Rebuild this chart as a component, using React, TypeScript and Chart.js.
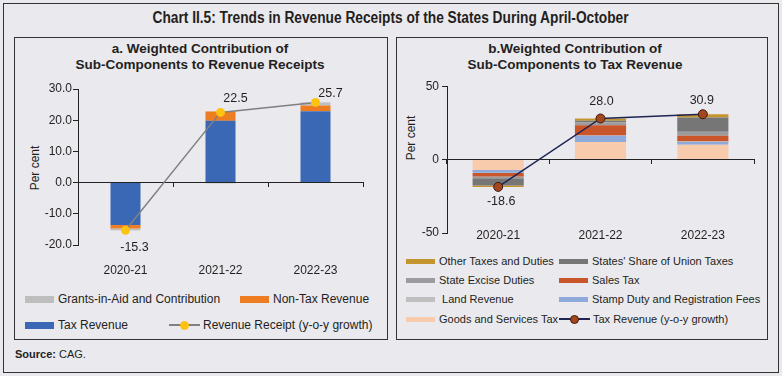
import React, { useEffect, useLayoutEffect, useRef } from "react";
import { Chart, registerables } from "chart.js";

Chart.register(...registerables);

// ---------- DATA ----------
const years = ["2020-21", "2021-22", "2022-23"];

// Panel a: weighted contribution to revenue receipts
const taxRevenue = [-13.6, 19.8, 22.9];
const nonTaxRevenue = [-1.1, 3.0, 1.8];
const grantsInAid = [-0.6, -0.3, 1.0];
const revenueReceiptGrowth = [-15.3, 22.5, 25.7];
const leftTicks = [-20, -10, 0, 10, 20, 30];

// Panel b: weighted contribution to tax revenue
const gst = [-7.0, 12.0, 10.2];
const stampDuty = [-1.9, 4.2, 1.8];
const landRevenue = [-0.2, 0.2, 0.3];
const salesTax = [-2.4, 7.0, 4.0];
const stateExcise = [-1.2, 2.0, 2.7];
const statesShare = [-5.0, 1.0, 9.6];
const otherTaxes = [-0.9, 1.6, 2.3];
const taxRevenueGrowth = [-18.6, 28.0, 30.9];
const rightTicks = [-50, 0, 50];

// ---------- STYLE ----------
const BG = "#EAE9EE";
const TXT = "#231F20";
const AXIS = "#222222";
const FONT = "'Liberation Sans', Arial, Helvetica, sans-serif";

const C_TAX = "#3A68B4";
const C_NONTAX = "#EE7D22";
const C_GRANTS = "#BEBEBE";
const C_RR_LINE = "#808080";
const C_RR_PT = "#FFC20E";

const C_GST = "#F8CBAD";
const C_STAMP = "#8EAADB";
const C_LAND = "#BFBFBF";
const C_SALES = "#C9552B";
const C_EXCISE = "#9C9C9E";
const C_SHARE = "#767676";
const C_OTHER = "#C4952F";
const C_TR_LINE = "#1E2454";
const C_TR_PT = "#A3471F";
const C_TR_PTB = "#3B1A0E";

Chart.defaults.font.family = FONT;
Chart.defaults.color = TXT;

const pointLabels = {
  id: "pointLabels",
  afterDatasetsDraw(chart: any, _args: any, opts: any) {
    const idx = chart.data.datasets.findIndex((d: any) => d.type === "line");
    if (idx < 0) return;
    const meta = chart.getDatasetMeta(idx);
    const ctx = chart.ctx;
    ctx.save();
    ctx.font = opts.font;
    ctx.fillStyle = opts.color;
    ctx.textAlign = "center";
    ctx.textBaseline = "middle";
    meta.data.forEach((pt: any, i: number) => {
      const v = chart.data.datasets[idx].data[i] as number;
      const off = opts.offsets[i] || [0, 0];
      ctx.fillText(v.toFixed(1), pt.x + off[0], pt.y + off[1]);
    });
    ctx.restore();
  },
};

function makeScales(o: {
  min: number;
  max: number;
  yWidth: number;
  xHeight: number;
  xPad: number;
  yPad: number;
  xAtMin: boolean;
  fmt: (v: number) => string;
  ticks: number[];
}) {
  const x: any = {
    type: "category",
    axis: "x",
    stacked: true,
    offset: true,
    grid: { display: false, drawTicks: false },
    border: { display: false },
    ticks: { font: { size: 12 }, color: TXT, padding: o.xPad, maxRotation: 0 },
  };
  if (o.xAtMin) {
    x.position = { y: o.min };
  } else {
    x.position = "bottom";
    x.afterFit = (s: any) => {
      s.height = o.xHeight;
    };
  }
  return {
    x,
    x2: {
      type: "category",
      axis: "x",
      position: { y: 0 },
      offset: true,
      grid: {
        offset: true,
        drawOnChartArea: false,
        drawTicks: true,
        tickLength: 4,
        color: AXIS,
      },
      border: { display: true, color: AXIS, width: 1 },
      ticks: { display: false },
    },
    y: {
      stacked: true,
      min: o.min,
      max: o.max,
      afterBuildTicks: (s: any) => {
        s.ticks = o.ticks.map((v) => ({ value: v }));
      },
      grid: {
        drawOnChartArea: false,
        drawTicks: true,
        tickLength: 5,
        color: AXIS,
      },
      border: { display: true, color: AXIS, width: 1 },
      ticks: {
        font: { size: 12 },
        color: TXT,
        padding: o.yPad,
        callback: (v: any) => o.fmt(Number(v)),
      },
      afterFit: (s: any) => {
        s.width = o.yWidth;
      },
    },
  };
}

function LeftChart() {
  const ref = useRef<HTMLCanvasElement>(null);
  useEffect(() => {
    const bar = (label: string, data: number[], color: string) => ({
      label,
      data,
      backgroundColor: color,
      barPercentage: 1,
      categoryPercentage: 0.316,
      order: 1,
    });
    const chart = new Chart(ref.current as HTMLCanvasElement, {
      type: "bar",
      data: {
        labels: years,
        datasets: [
          {
            type: "line",
            label: "Revenue Receipt (y-o-y growth)",
            data: revenueReceiptGrowth,
            borderColor: C_RR_LINE,
            borderWidth: 1.5,
            pointBackgroundColor: C_RR_PT,
            pointBorderColor: C_RR_PT,
            pointRadius: 4.5,
            pointBorderWidth: 0,
            order: 0,
          } as any,
          bar("Tax Revenue", taxRevenue, C_TAX),
          bar("Non-Tax Revenue", nonTaxRevenue, C_NONTAX),
          bar("Grants-in-Aid and Contribution", grantsInAid, C_GRANTS),
        ],
      },
      options: {
        responsive: false,
        animation: false,
        events: [],
        layout: { padding: { top: 11, right: 23, bottom: 0, left: 0 } },
        plugins: {
          legend: { display: false },
          tooltip: { enabled: false },
          pointLabels: {
            font: `12.5px ${FONT}`,
            color: TXT,
            offsets: [
              [9, 17],
              [15, -14],
              [15, -9],
            ],
          },
        } as any,
        scales: makeScales({
          min: -20,
          max: 30,
          yWidth: 64,
          xHeight: 35,
          xPad: 18,
          yPad: 1,
          xAtMin: false,
          fmt: (v) => v.toFixed(1),
          ticks: leftTicks,
        }) as any,
      },
      plugins: [pointLabels],
    });
    return () => chart.destroy();
  }, []);
  return (
    <canvas
      ref={ref}
      width={372}
      height={202}
      style={{ position: "absolute", left: 14, top: 78, width: 372, height: 202 }}
    />
  );
}

function RightChart() {
  const ref = useRef<HTMLCanvasElement>(null);
  useEffect(() => {
    const bar = (label: string, data: number[], color: string) => ({
      label,
      data,
      backgroundColor: color,
      barPercentage: 1,
      categoryPercentage: 0.5,
      order: 1,
    });
    const chart = new Chart(ref.current as HTMLCanvasElement, {
      type: "bar",
      data: {
        labels: years,
        datasets: [
          {
            type: "line",
            label: "Tax Revenue (y-o-y growth)",
            data: taxRevenueGrowth,
            borderColor: C_TR_LINE,
            borderWidth: 1.5,
            pointBackgroundColor: C_TR_PT,
            pointBorderColor: C_TR_PTB,
            pointRadius: 4.5,
            pointBorderWidth: 1,
            order: 0,
          } as any,
          bar("Goods and Services Tax", gst, C_GST),
          bar("Stamp Duty and Registration Fees", stampDuty, C_STAMP),
          bar("Land Revenue", landRevenue, C_LAND),
          bar("Sales Tax", salesTax, C_SALES),
          bar("State Excise Duties", stateExcise, C_EXCISE),
          bar("States' Share of Union Taxes", statesShare, C_SHARE),
          bar("Other Taxes and Duties", otherTaxes, C_OTHER),
        ],
      },
      options: {
        responsive: false,
        animation: false,
        events: [],
        layout: { padding: { top: 9, right: 13, bottom: 18, left: 0 } },
        plugins: {
          legend: { display: false },
          tooltip: { enabled: false },
          pointLabels: {
            font: `12.5px ${FONT}`,
            color: TXT,
            offsets: [
              [3, 15],
              [1, -17],
              [-1, -14],
            ],
          },
        } as any,
        scales: makeScales({
          min: -50,
          max: 50,
          yWidth: 51,
          xHeight: 0,
          xPad: -4.5,
          yPad: 3,
          xAtMin: true,
          fmt: (v) => String(v),
          ticks: rightTicks,
        }) as any,
      },
      plugins: [pointLabels],
    });
    return () => chart.destroy();
  }, []);
  return (
    <canvas
      ref={ref}
      width={371}
      height={175}
      style={{ position: "absolute", left: 396, top: 76, width: 371, height: 175 }}
    />
  );
}

type LegendItem = {
  label: string;
  color: string;
  kind: "box" | "line";
  x: number;
  y: number;
  marker?: string;
  markerBorder?: string;
};

function Legend({
  items,
  fontSize,
  swatchH,
}: {
  items: LegendItem[];
  fontSize: number;
  swatchH: number;
}) {
  return (
    <>
      {items.map((it) => (
        <div
          key={it.label}
          style={{
            position: "absolute",
            left: it.x,
            top: it.y - 9,
            height: 18,
            display: "flex",
            alignItems: "center",
            whiteSpace: "pre",
            fontSize,
            color: TXT,
          }}
        >
          {it.kind === "box" ? (
            <span
              style={{ display: "inline-block", width: 29, height: swatchH, background: it.color }}
            />
          ) : (
            <span style={{ position: "relative", display: "inline-block", width: 31, height: 10 }}>
              <span
                style={{
                  position: "absolute",
                  left: 0,
                  top: 4,
                  width: 31,
                  height: 1.5,
                  background: it.color,
                }}
              />
              <span
                style={{
                  position: "absolute",
                  left: 11,
                  top: 0.5,
                  width: 9,
                  height: 9,
                  boxSizing: "border-box",
                  borderRadius: "50%",
                  background: it.marker,
                  border: `1px solid ${it.markerBorder || it.marker}`,
                }}
              />
            </span>
          )}
          <span style={{ marginLeft: it.kind === "box" ? 4 : 3 }}>{it.label}</span>
        </div>
      ))}
    </>
  );
}

const leftLegend: LegendItem[] = [
  { label: "Grants-in-Aid and Contribution", color: C_GRANTS, kind: "box", x: 25, y: 299 },
  { label: "Non-Tax Revenue", color: C_NONTAX, kind: "box", x: 240, y: 299 },
  { label: "Tax Revenue", color: C_TAX, kind: "box", x: 25, y: 325 },
  {
    label: "Revenue Receipt (y-o-y growth)",
    color: C_RR_LINE,
    kind: "line",
    x: 169,
    y: 325,
    marker: C_RR_PT,
  },
];

const rightLegend: LegendItem[] = [
  { label: "Other Taxes and Duties", color: C_OTHER, kind: "box", x: 406, y: 261 },
  { label: "States' Share of Union Taxes", color: C_SHARE, kind: "box", x: 559, y: 261 },
  { label: "State Excise Duties", color: C_EXCISE, kind: "box", x: 406, y: 280 },
  { label: "Sales Tax", color: C_SALES, kind: "box", x: 559, y: 280 },
  { label: " Land Revenue", color: C_LAND, kind: "box", x: 406, y: 299 },
  { label: "Stamp Duty and Registration Fees", color: C_STAMP, kind: "box", x: 559, y: 299 },
  { label: "Goods and Services Tax", color: C_GST, kind: "box", x: 406, y: 319 },
  {
    label: "Tax Revenue (y-o-y growth)",
    color: C_TR_LINE,
    kind: "line",
    x: 559,
    y: 319,
    marker: C_TR_PT,
    markerBorder: C_TR_PTB,
  },
];

function RotLabel({ text, cx, cy }: { text: string; cx: number; cy: number }) {
  return (
    <div
      style={{
        position: "absolute",
        left: cx,
        top: cy,
        transform: "translate(-50%, -50%) rotate(-90deg)",
        whiteSpace: "nowrap",
        fontSize: 12,
        lineHeight: "14px",
        color: TXT,
      }}
    >
      {text}
    </div>
  );
}

function FitTitle({ text, width }: { text: string; width: number }) {
  const ref = useRef<HTMLSpanElement>(null);
  useLayoutEffect(() => {
    const el = ref.current;
    if (!el) return;
    el.style.transform = "none";
    const w = el.getBoundingClientRect().width;
    if (w > 0) el.style.transform = `scaleX(${width / w})`;
  }, [text, width]);
  return (
    <div
      style={{
        position: "absolute",
        left: 0,
        top: 9,
        width: 782,
        textAlign: "center",
        fontWeight: "bold",
        fontSize: 16,
        lineHeight: "18px",
      }}
    >
      <span
        ref={ref}
        style={{ display: "inline-block", whiteSpace: "nowrap", transformOrigin: "50% 50%" }}
      >
        {text}
      </span>
    </div>
  );
}

export default function App() {
  return (
    <div
      style={{
        position: "absolute",
        left: 0,
        top: 0,
        width: 782,
        height: 376,
        background: BG,
        fontFamily: FONT,
        color: TXT,
        overflow: "hidden",
      }}
    >
      <div
        style={{
          position: "absolute",
          left: 3,
          top: 3,
          width: 776,
          height: 370,
          border: "1px solid #333",
          boxSizing: "border-box",
        }}
      />
      <FitTitle
        text="Chart II.5: Trends in Revenue Receipts of the States During April-October"
        width={476}
      />

      <div
        style={{
          position: "absolute",
          left: 14,
          top: 37,
          width: 374,
          height: 303,
          border: "1px solid #333",
          boxSizing: "border-box",
        }}
      />
      <div
        style={{
          position: "absolute",
          left: 396,
          top: 37,
          width: 372,
          height: 303,
          border: "1px solid #333",
          boxSizing: "border-box",
        }}
      />

      <div
        style={{
          position: "absolute",
          left: 14,
          top: 41,
          width: 372,
          textAlign: "center",
          fontWeight: "bold",
          fontSize: 13.5,
          lineHeight: "16px",
        }}
      >
        a. Weighted Contribution of
        <br />
        Sub-Components to Revenue Receipts
      </div>
      <div
        style={{
          position: "absolute",
          left: 389,
          top: 41,
          width: 372,
          textAlign: "center",
          fontWeight: "bold",
          fontSize: 13.5,
          lineHeight: "16px",
        }}
      >
        b.Weighted Contribution of
        <br />
        Sub-Components to Tax Revenue
      </div>

      <RotLabel text="Per cent" cx={35} cy={168} />
      <RotLabel text="Per cent" cx={411} cy={138} />

      <LeftChart />
      <RightChart />

      <Legend items={leftLegend} fontSize={12} swatchH={7} />
      <Legend items={rightLegend} fontSize={11} swatchH={5} />

      <div
        style={{
          position: "absolute",
          left: 15,
          top: 346,
          fontSize: 11,
          lineHeight: "16px",
          whiteSpace: "pre",
        }}
      >
        <b>Source:</b> CAG.
      </div>
    </div>
  );
}
